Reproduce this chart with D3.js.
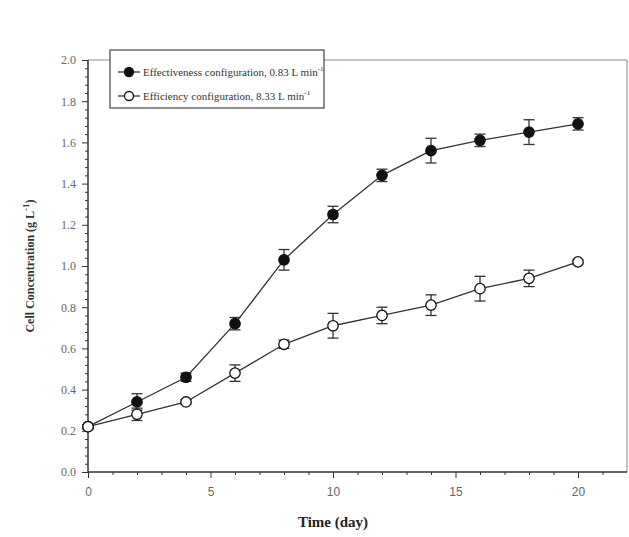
<!DOCTYPE html>
<html>
<head>
<meta charset="utf-8">
<script src="https://cdn.jsdelivr.net/npm/d3@7"></script>
<style>
  body { margin: 0; background: #fff; }
  svg { display: block; }
</style>
</head>
<body>
<svg class="growth" width="629" height="537"></svg>
<script>
// days sampled
var days = [0, 2, 4, 6, 8, 10, 12, 14, 16, 18, 20];

// effectiveness configuration, 0.83 L/min (filled circles)
var effMean = [0.22, 0.34, 0.46, 0.72, 1.03, 1.25, 1.44, 1.56, 1.61, 1.65, 1.69];
var effErr  = [0.01, 0.04, 0.02, 0.03, 0.05, 0.04, 0.03, 0.06, 0.03, 0.06, 0.03];

// efficiency configuration, 8.33 L/min (open circles)
var ficMean = [0.22, 0.28, 0.34, 0.48, 0.62, 0.71, 0.76, 0.81, 0.89, 0.94, 1.02];
var ficErr  = [0.01, 0.03, 0.01, 0.04, 0.02, 0.06, 0.04, 0.05, 0.06, 0.04, 0.01];

var xTicks = [0, 5, 10, 15, 20];
var yTicks = [0.0, 0.2, 0.4, 0.6, 0.8, 1.0, 1.2, 1.4, 1.6, 1.8, 2.0];

var svg = d3.select("svg.growth"),
  margin = {top: 60, right: 2, bottom: 65, left: 88},
  width = +svg.attr("width") - margin.left - margin.right,
  height = +svg.attr("height") - margin.top - margin.bottom;

var x = d3.scaleLinear().domain([0, 22]).range([0, width]),
  y = d3.scaleLinear().domain([0, 2]).range([height, 0]);

var g = svg.append("g")
  .attr("transform", "translate(" + margin.left + "," + margin.top + ")");

var ink = "#333";

// frame (top and right lighter)
g.append("line").attr("x1", 0).attr("x2", width).attr("y1", 0).attr("y2", 0)
  .attr("stroke", "#888").attr("stroke-width", 1.2);
g.append("line").attr("x1", width).attr("x2", width).attr("y1", 0).attr("y2", height)
  .attr("stroke", "#999").attr("stroke-width", 1.2);

// minor ticks
var xMinor = d3.range(1, 22).filter(function(d) { return d % 5 !== 0; });
var yMinor = d3.range(0, 2.0001, 0.04).filter(function(d) { return Math.abs(d * 5 - Math.round(d * 5)) > 1e-6; });

g.append("g")
  .attr("transform", "translate(0," + height + ")")
  .call(d3.axisBottom(x).tickValues(xMinor).tickSize(3).tickFormat(""))
  .call(function(a) { a.select(".domain").remove(); })
  .selectAll("line").attr("stroke", ink);

g.append("g")
  .call(d3.axisLeft(y).tickValues(yMinor).tickSize(3).tickFormat(""))
  .call(function(a) { a.select(".domain").remove(); })
  .selectAll("line").attr("stroke", ink);

// x axis
var xAxis = g.append("g")
  .attr("transform", "translate(0," + height + ")")
  .call(d3.axisBottom(x).tickValues(xTicks).tickSize(6).tickPadding(9).tickSizeOuter(0));
xAxis.select(".domain").attr("d", "M0,0H" + width).attr("stroke", ink).attr("stroke-width", 1.5);
xAxis.selectAll("line").attr("stroke", ink);
xAxis.selectAll("text")
  .style("font-family", "'Liberation Sans', Arial, sans-serif")
  .style("font-size", "12px")
  .attr("fill", "#666");

// y axis
var yAxis = g.append("g")
  .call(d3.axisLeft(y).tickValues(yTicks).tickSize(6).tickPadding(6).tickSizeOuter(0)
    .tickFormat(d3.format(".1f")));
yAxis.select(".domain").attr("d", "M0," + height + "V0").attr("stroke", ink).attr("stroke-width", 1.5);
yAxis.selectAll("line").attr("stroke", ink);
yAxis.selectAll("text")
  .style("font-family", "'Liberation Serif', 'Times New Roman', serif")
  .style("font-size", "12px")
  .attr("fill", "#666");

// axis titles
svg.append("text")
  .attr("x", margin.left + x(10))
  .attr("y", 527)
  .attr("text-anchor", "middle")
  .style("font-family", "'Liberation Serif', 'Times New Roman', serif")
  .style("font-size", "15px")
  .style("font-weight", "bold")
  .attr("fill", "#222")
  .text("Time (day)");

var yl = svg.append("text")
  .attr("transform", "translate(34," + (margin.top + y(1)) + ")rotate(-90)")
  .attr("text-anchor", "middle")
  .style("font-family", "'Liberation Serif', 'Times New Roman', serif")
  .style("font-size", "12px")
  .style("font-weight", "bold")
  .attr("fill", "#333");
yl.append("tspan").text("Cell Concentration (g L");
yl.append("tspan").attr("dy", -5).style("font-size", "9px").text("-1");
yl.append("tspan").attr("dy", 5).text(")");

// series
var series = [
  {name: "Effectiveness configuration, 0.83 L min", mean: effMean, err: effErr, fill: "#111"},
  {name: "Efficiency configuration, 8.33 L min", mean: ficMean, err: ficErr, fill: "#fff"}
];

var line = d3.line()
  .x(function(d) { return x(d.day); })
  .y(function(d) { return y(d.value); });

series.forEach(function(s) {
  var data = days.map(function(d, i) { return {day: d, value: s.mean[i], err: s.err[i]}; });

  g.append("path")
    .datum(data)
    .attr("d", line)
    .attr("fill", "none")
    .attr("stroke", ink)
    .attr("stroke-width", 1.3);

  var eb = g.selectAll(null).data(data).enter().append("g")
    .attr("stroke", ink).attr("stroke-width", 1.3);
  eb.append("line")
    .attr("x1", function(d) { return x(d.day); })
    .attr("x2", function(d) { return x(d.day); })
    .attr("y1", function(d) { return y(d.value - d.err); })
    .attr("y2", function(d) { return y(d.value + d.err); });
  eb.append("line")
    .attr("x1", function(d) { return x(d.day) - 5.5; })
    .attr("x2", function(d) { return x(d.day) + 5.5; })
    .attr("y1", function(d) { return y(d.value + d.err); })
    .attr("y2", function(d) { return y(d.value + d.err); });
  eb.append("line")
    .attr("x1", function(d) { return x(d.day) - 5.5; })
    .attr("x2", function(d) { return x(d.day) + 5.5; })
    .attr("y1", function(d) { return y(d.value - d.err); })
    .attr("y2", function(d) { return y(d.value - d.err); });

  g.selectAll(null).data(data).enter().append("circle")
    .attr("cx", function(d) { return x(d.day); })
    .attr("cy", function(d) { return y(d.value); })
    .attr("r", 5.2)
    .attr("fill", s.fill)
    .attr("stroke", "#111")
    .attr("stroke-width", 1.3);
});

// legend
var lg = svg.append("g").attr("transform", "translate(110,50)");
lg.append("rect")
  .attr("width", 214).attr("height", 58)
  .attr("fill", "#fff").attr("stroke", "#444").attr("stroke-width", 1.2);

series.forEach(function(s, i) {
  var row = lg.append("g").attr("transform", "translate(0," + (22 + i * 24) + ")");
  row.append("line").attr("x1", 8).attr("x2", 30).attr("y1", 0).attr("y2", 0)
    .attr("stroke", ink).attr("stroke-width", 1.3);
  row.append("circle").attr("cx", 19).attr("cy", 0).attr("r", 4.5)
    .attr("fill", s.fill).attr("stroke", "#111").attr("stroke-width", 1.3);
  var t = row.append("text").attr("x", 33).attr("y", 4)
    .style("font-family", "'Liberation Serif', 'Times New Roman', serif")
    .style("font-size", "11px")
    .attr("fill", "#333");
  t.append("tspan").text(s.name);
  t.append("tspan").attr("dy", -5).style("font-size", "7px").text("-1");
});
</script>
</body>
</html>
